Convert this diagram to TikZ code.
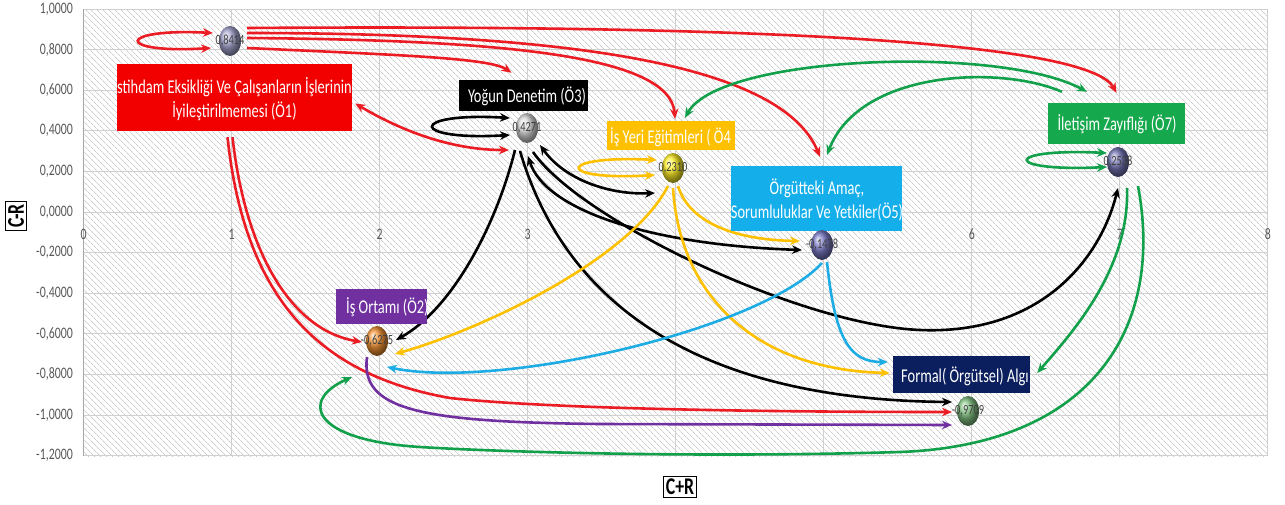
\documentclass[tikz,border=0pt]{standalone}
\usepackage{fontspec}
\setmainfont{Carlito}[FakeStretch=0.74]
\usetikzlibrary{arrows.meta,calc,shapes.geometric,patterns.meta}
\pgfdeclarelayer{back}
\pgfdeclarelayer{mid}
\pgfsetlayers{back,mid,main}
\definecolor{cRed}{HTML}{EC1C24}
\definecolor{cBoxRed}{HTML}{F20000}
\definecolor{cGold}{HTML}{FFC000}
\definecolor{cBlue}{HTML}{1EACE4}
\definecolor{cBoxBlue}{HTML}{14AEEA}
\definecolor{cGreen}{HTML}{12A04A}
\definecolor{cBoxGreen}{HTML}{16A84C}
\definecolor{cPurple}{HTML}{7030A0}
\definecolor{cNavy}{HTML}{0B1F5E}
\definecolor{cGrid}{HTML}{D0D0D0}
\definecolor{cTick}{HTML}{595959}
\begin{document}
\begin{tikzpicture}[x=1pt,y=-1pt,
  conn/.style={line width=2.6pt,draw=#1,-{Stealth[length=10pt,width=8.5pt]}},
  dbl/.style={line width=2.6pt,draw=#1,{Stealth[length=10pt,width=8.5pt]}-{Stealth[length=10pt,width=8.5pt]}},
  ball/.style={ellipse,minimum width=22pt,minimum height=30pt,inner sep=0pt,ball color=#1},
  val/.style={font=\fontsize{14}{14}\selectfont,text=black!75,inner sep=0pt},
  lbox/.style={rectangle,inner sep=0pt,fill=#1},
  ltxt/.style={text=white,font=\fontsize{19.5}{24}\selectfont,inner sep=0pt,align=center},
  tick/.style={font=\fontsize{16}{16}\selectfont,text=cTick,inner sep=0pt},
  axt/.style={draw=black,line width=1.2pt,font=\fontsize{24}{24}\selectfont\bfseries,inner sep=2.5pt}]
\useasboundingbox (0,0) rectangle (1285,504);

% ---------- background, grid, ticks ----------
\begin{pgfonlayer}{back}
  \fill[white] (0,0) rectangle (1285,504);
  \fill[pattern={Lines[angle=-45,distance=4pt,line width=0.7pt]},pattern color=gray!40] (83.5,9) rectangle (1268,456);
  \foreach \k in {1,...,8} \draw[cGrid,line width=1pt] ({83.5+148.06*\k},9) -- ({83.5+148.06*\k},456);
  \foreach \i in {0,...,11} \draw[cGrid,line width=1pt] (83.5,{9+40.6*\i}) -- (1268,{9+40.6*\i});
  \draw[cGrid!80!black,line width=1pt] (83.5,9) -- (83.5,456);
  \foreach \v/\t [count=\i from 0] in {1/{1,0000},0.8/{0,8000},0.6/{0,6000},0.4/{0,4000},0.2/{0,2000},0/{0,0000},-0.2/{-0,2000},-0.4/{-0,4000},-0.6/{-0,6000},-0.8/{-0,8000},-1/{-1,0000},-1.2/{-1,2000}}
    \node[tick,anchor=east] at (73,{9+40.6*\i}) {\t};
  \foreach \k in {0,1,2,3,6,7,8} \node[tick] at ({83.5+148.06*\k},234) {\k};
\end{pgfonlayer}

% ---------- axis titles ----------
\node[axt,rotate=90] (ya) at (16,216) {C-R};
\node[axt] (xa) at (680,487) {C+R};

% ---------- label boxes ----------
\node[lbox=cBoxRed,minimum width=235pt,minimum height=67pt] (l1) at (234.5,97.5) {};
\node[lbox=black,minimum width=129pt,minimum height=31pt] (l3) at (523.5,95.5) {};
\node[lbox=cGold,minimum width=128pt,minimum height=29pt] (l4) at (671,135.5) {};
\node[lbox=cBoxBlue,minimum width=171pt,minimum height=65pt] (l5) at (816,198.5) {};
\node[lbox=cBoxGreen,minimum width=137pt,minimum height=41pt] (l7) at (1116.5,123.5) {};
\node[lbox=cPurple,minimum width=91pt,minimum height=35pt] (l2) at (381.5,306.5) {};
\node[lbox=cNavy,minimum width=137pt,minimum height=37pt] (l6) at (961.5,374.5) {};

\begin{scope}\clip (l1.north west) rectangle (l1.south east);
  \node[ltxt] (t1) at (234.5,99) {stihdam Eksikliği Ve Çalışanların İşlerinin\\İyileştirilmemesi (Ö1)};
\end{scope}
\node[ltxt] (t3) at (527,96) {Yoğun Denetim (Ö3)};
\begin{scope}\clip (l4.north west) rectangle (l4.south east);
  \node[ltxt,anchor=west] (t4) at (610,137) {İş Yeri Eğitimleri ( Ö4};
\end{scope}
\begin{scope}\clip (l5.north west) rectangle (l5.south east);
  \node[ltxt] (t5) at (817,200) {Örgütteki Amaç,\\Sorumluluklar Ve Yetkiler(Ö5)};
\end{scope}
\node[ltxt] (t7) at (1117,124) {İletişim Zayıflığı (Ö7)};
\begin{scope}\clip (l2.north west) rectangle (l2.south east);
  \node[ltxt,anchor=west] (t2) at (346,307) {İş Ortamı (Ö2)};
\end{scope}
\begin{scope}\clip (l6.north west) rectangle (l6.south east);
  \node[ltxt,anchor=west] (t6) at (901,376) {Formal( Örgütsel) Algı};
\end{scope}

% ---------- balls ----------
\node[ball={blue!30!gray!55!white}] (o1) at (230,41) {};
\node[ball={orange!75!brown!85!white}] (o2) at (377,341) {};
\node[ball={gray!30}] (o3) at (527,128) {};
\node[ball={yellow!85!orange!85!white}] (o4) at (673,168) {};
\node[ball={blue!40!gray!75!white}] (o5) at (822,245) {};
\node[ball={green!50!black!50!white}] (o6) at (968,411) {};
\node[ball={blue!30!gray!85!white}] (o7) at (1118,162) {};
\node[val] (v1) at (o1) {0,8414};
\node[val] (v2) at (o2) {-0,6275};
\node[val] (v3) at (o3) {0,4271};
\node[val] (v4) at (o4) {0,2310};
\node[val] (v5) at (o5) {-0,1478};
\node[val] (v6) at (o6) {-0,9709};
\node[val] (v7) at (o7) {0,2538};

% ---------- connectors ----------
\begin{pgfonlayer}{mid}
% red (from O1)
\draw[dbl=cRed] ($(o1)+(-17,-8)$) .. controls (115,28) and (115,54) .. ($(o1)+(-19,7)$);
\draw[conn=cRed] ($(o1)+(17,-13)$) .. controls (800,24) and (1090,45) .. ($(l7.north)+(0,-10)$);
\draw[conn=cRed] ($(o1)+(17,-8)$) .. controls (550,33) and (780,60) .. ($(l5.north)+(4,-9)$);
\draw[conn=cRed] ($(o1)+(17,-3)$) .. controls (500,40) and (670,55) .. ($(l4.north)+(4,-2)$);
\draw[conn=cRed] ($(o1)+(17,7)$) .. controls (400,55) and (490,58) .. ($(l3.north)+(-12,-7)$);
\draw[dbl=cRed] ($(l1.east)+(3,6)$) .. controls (400,130) and (450,150) .. ($(o3)+(-18,22)$);
\draw[conn=cRed] ($(l1.south)+(-2,6)$) .. controls (245,250) and (290,330) .. ($(o2)+(-15,1)$);
\draw[conn=cRed] ($(l1.south)+(-7,6)$) .. controls (245,300) and (320,375) .. (450,398) .. controls (560,410) and (800,412) .. ($(o6)+(-16,1)$);
% black (from O3)
\draw[dbl=black] ($(o3)+(-17,-10)$) .. controls (408,112) and (408,141) .. ($(o3)+(-17,7)$);
\draw[conn=black] ($(o3)+(-12,22)$) .. controls (495,230) and (450,310) .. ($(o2)+(19,-1)$);
\draw[conn=black] ($(o3)+(-7,23)$) .. controls (570,320) and (720,400) .. ($(o6)+(-16,-9)$);
\draw[dbl=black] ($(o3)+(1,28)$) .. controls (545,210) and (650,245) .. ($(o5)+(-20,5)$);
\draw[conn=black] ($(o3)+(6,24)$) .. controls (580,220) and (800,325) .. (920,330) .. controls (1040,335) and (1100,260) .. ($(o7)+(0,26)$);
\draw[dbl=black] ($(o3)+(13,17)$) .. controls (565,180) and (610,195) .. ($(o4)+(-18,25)$);
% yellow (from O4)
\draw[dbl=cGold] ($(o4)+(-16,-8)$) .. controls (555,155) and (555,181) .. ($(o4)+(-18,7)$);
\draw[conn=cGold] ($(o4)+(-5,18)$) .. controls (630,260) and (480,330) .. ($(o2)+(18,13)$);
\draw[conn=cGold] ($(o4)+(5,18)$) .. controls (690,225) and (740,240) .. ($(o5)+(-22,-4)$);
\draw[conn=cGold] ($(o4)+(0,20)$) .. controls (680,300) and (760,370) .. ($(l6.west)+(-3,-1.5)$);
% blue (from O5)
\draw[conn=cBlue] ($(o5)+(0,18)$) .. controls (760,330) and (500,390) .. ($(o2)+(10,26)$);
\draw[conn=cBlue] ($(o5)+(5,17)$) .. controls (835,340) and (850,362) .. ($(l6.west)+(-5,-12.5)$);
% purple (from O2)
\draw[conn=cPurple] ($(o2)+(-10,16)$) .. controls (360,410) and (420,422) .. (600,424) -- ($(o6)+(-16,14)$);
% green (from O7)
\draw[dbl=cGreen] ($(o7)+(-11,-9)$) .. controls (1002,148) and (1002,172) .. ($(o7)+(-11,5)$);
\draw[dbl=cGreen] ($(l4.north)+(14,-3)$) .. controls (720,55) and (1000,45) .. ($(l7.north)+(-29.5,-11)$);
\draw[conn=cGreen] ($(l7.north)+(-54.5,-11)$) .. controls (1000,65) and (860,70) .. ($(l5.north)+(11,-11)$);
\draw[conn=cGreen] ($(o7)+(9,26)$) .. controls (1130,270) and (1070,335) .. ($(l6.east)+(7,-1.5)$);
\draw[conn=cGreen] ($(o7)+(20,24)$) .. controls (1165,330) and (1090,445) .. (900,452) .. controls (700,458) and (500,452) .. (420,447) .. controls (310,440) and (300,400) .. ($(o2)+(-25,36)$);
\end{pgfonlayer}
\end{tikzpicture}
\end{document}
